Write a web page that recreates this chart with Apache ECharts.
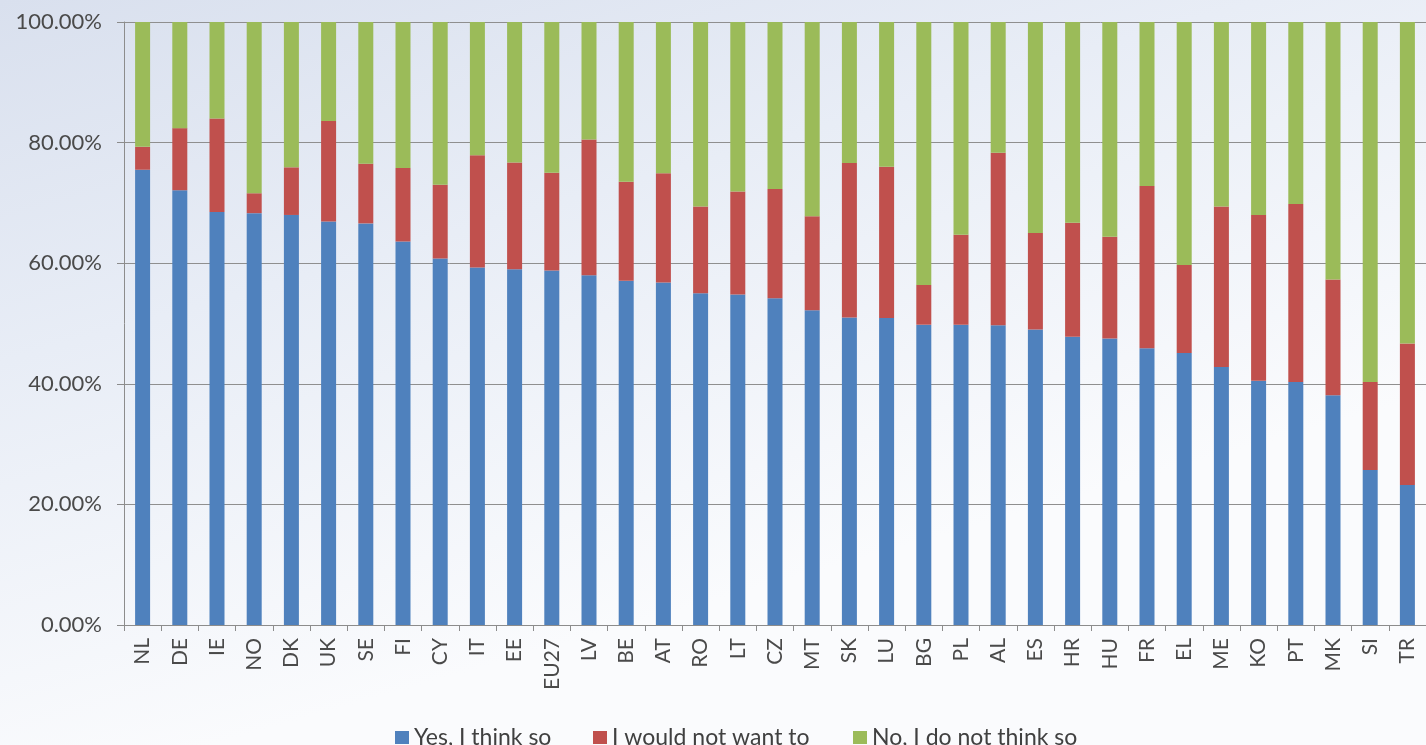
<!DOCTYPE html>
<html>
<head>
<meta charset="utf-8">
<script src="https://cdn.jsdelivr.net/npm/echarts@6/dist/echarts.min.js"></script>
<style>
  html, body { margin: 0; padding: 0; }
  #chart { width: 1426px; height: 745px; }
</style>
</head>
<body>
<div id="chart"></div>
<script>
// Country codes, in the order drawn
const countries = ['NL','DE','IE','NO','DK','UK','SE','FI','CY','IT','EE','EU27','LV','BE','AT','RO','LT','CZ','MT','SK','LU','BG','PL','AL','ES','HR','HU','FR','EL','ME','KO','PT','MK','SI','TR'];

// Shares of answers, in percent
const yesThinkSo = [75.5,72.1,68.5,68.3,68.0,66.9,66.6,63.6,60.8,59.3,59.0,58.8,58.0,57.1,56.8,55.0,54.8,54.2,52.2,51.0,50.9,49.8,49.8,49.7,49.0,47.8,47.5,45.9,45.1,42.8,40.5,40.3,38.1,25.7,23.2];
const wouldNotWant = [3.8,10.3,15.5,3.3,7.9,16.7,9.9,12.2,12.2,18.6,17.7,16.2,22.5,16.4,18.1,14.4,17.1,18.1,15.6,25.6,25.1,6.6,14.9,28.6,16.0,18.9,16.9,26.9,14.6,26.6,27.5,29.5,19.2,14.6,23.5];
const noThinkSo = [20.7,17.6,16.0,28.4,24.1,16.4,23.5,24.2,27.0,22.1,23.3,25.0,19.5,26.5,25.1,30.6,28.1,27.7,32.2,23.4,24.0,43.6,35.3,21.7,35.0,33.3,35.6,27.2,40.3,30.6,32.0,30.2,42.7,59.7,53.3];

const seriesNames = ['Yes, I think so', 'I would not want to', 'No, I do not think so'];
const yTicks = [0, 20, 40, 60, 80, 100];

const colors = ['#4f81bd', '#c0504d', '#9bbb59'];
const labelFont = 'Lato, "Liberation Sans", sans-serif';

const chart = echarts.init(document.getElementById('chart'), null, { renderer: 'canvas' });

// One legend block per series so each entry sits at its own x position
function legendAt(name, left) {
  return {
    data: [name],
    left: left,
    top: 721,
    itemWidth: 14,
    itemHeight: 13,
    icon: 'rect',
    selectedMode: false,
    textStyle: { fontFamily: labelFont, fontSize: 23, color: '#404040', padding: 0 }
  };
}

chart.setOption({
  backgroundColor: {
    type: 'linear', x: 0, y: 0, x2: 0.15, y2: 1,
    colorStops: [
      { offset: 0, color: '#d9e0ee' },
      { offset: 0.45, color: '#e8edf6' },
      { offset: 1, color: '#fafbfd' }
    ]
  },
  animation: false,
  color: colors,
  grid: { left: 124, right: -3, top: 22, bottom: 120 },
  legend: [
    legendAt(seriesNames[0], 390),
    legendAt(seriesNames[1], 588),
    legendAt(seriesNames[2], 848)
  ],
  xAxis: {
    type: 'category',
    data: countries,
    axisLine: { lineStyle: { color: '#8c8c8c', width: 1 } },
    axisTick: { show: true, length: 6, lineStyle: { color: '#8c8c8c' } },
    axisLabel: {
      rotate: 90,
      margin: 13,
      interval: 0,
      fontFamily: labelFont,
      fontSize: 21,
      color: '#4a4a4a'
    },
    splitLine: { show: false }
  },
  yAxis: {
    type: 'value',
    min: yTicks[0],
    max: yTicks[yTicks.length - 1],
    interval: 20,
    axisLine: { show: true, lineStyle: { color: '#8c8c8c', width: 1 } },
    axisTick: { show: true, length: 7, lineStyle: { color: '#8c8c8c' } },
    axisLabel: {
      margin: 22,
      fontFamily: labelFont,
      fontSize: 22,
      color: '#4a4a4a',
      formatter: v => v.toFixed(2) + '%'
    },
    splitLine: { show: true, lineStyle: { color: '#8f8f8f', width: 1 } }
  },
  series: [
    { name: seriesNames[0], type: 'bar', stack: 'share', data: yesThinkSo, barWidth: 15 },
    { name: seriesNames[1], type: 'bar', stack: 'share', data: wouldNotWant, barWidth: 15 },
    { name: seriesNames[2], type: 'bar', stack: 'share', data: noThinkSo, barWidth: 15 }
  ]
});
</script>
</body>
</html>
